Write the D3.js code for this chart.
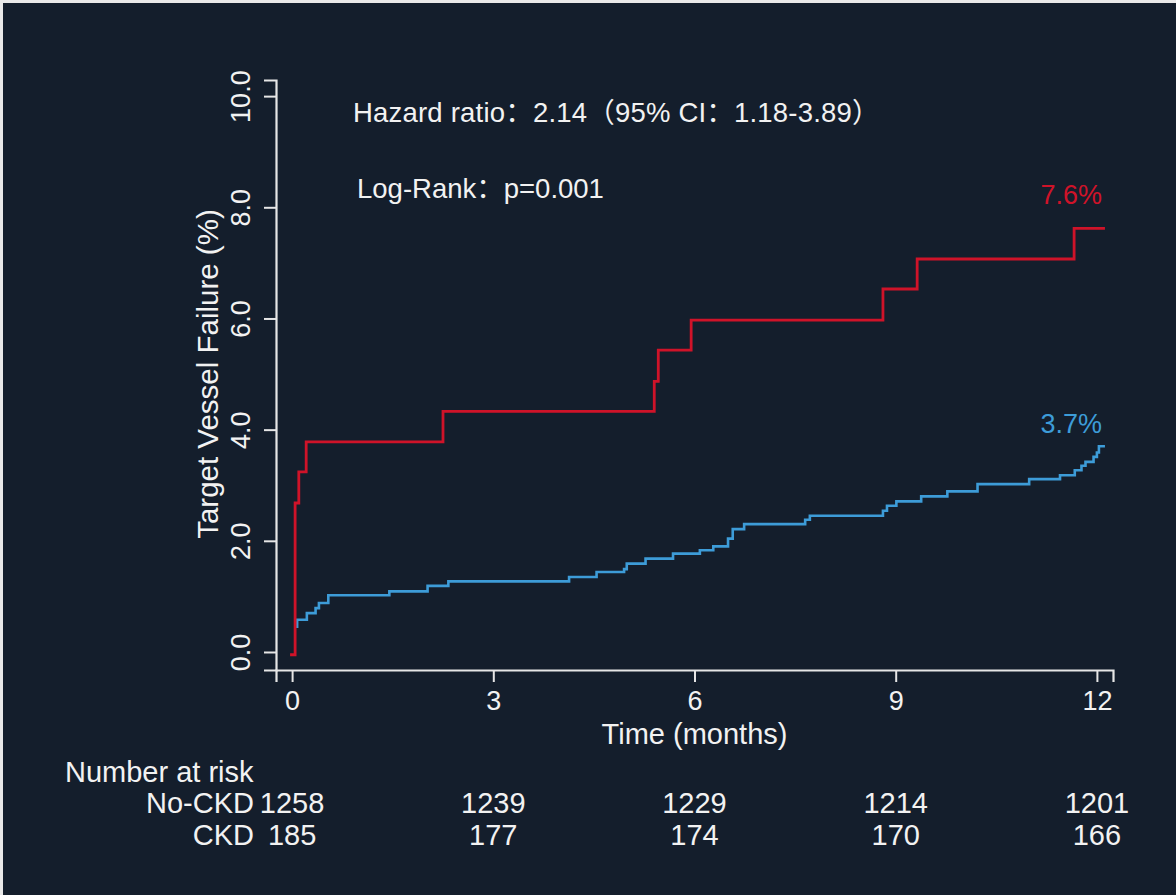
<!DOCTYPE html>
<html>
<head>
<meta charset="utf-8">
<script src="https://cdn.jsdelivr.net/npm/d3@7/dist/d3.min.js"></script>
<style>
  html, body { margin: 0; padding: 0; background: #e9e9e9; }
  svg { display: block; }
  text { font-family: "Liberation Sans", Arial, "Noto Sans CJK SC", sans-serif; fill: #f2f2f2; }
</style>
</head>
<body>
<svg id="chart"></svg>
<script>
const width = 1176;
const height = 895;

// Kaplan-Meier steps (months, cumulative %)
const ckdTimes  = [-0.03, 0.045, 0.10, 0.21, 2.25, 5.40, 5.46, 5.95, 8.81, 9.32, 11.66, 12.12];
const ckdValues = [-0.05, 2.68, 3.24, 3.78, 4.33, 4.87, 5.43, 5.97, 6.53, 7.07, 7.62, 7.62];

const noCkdTimes  = [0.075, 0.075, 0.22, 0.35, 0.40, 0.54, 1.45, 2.02, 2.33, 4.13, 4.54, 4.95, 4.99,
                     5.27, 5.68, 6.08, 6.28, 6.50, 6.57, 6.74, 7.65, 7.72, 8.81, 8.87, 9.01, 9.38,
                     9.77, 10.22, 10.99, 11.45, 11.67, 11.77, 11.83, 11.95, 12.00, 12.03, 12.12];
const noCkdValues = [0.43, 0.58, 0.70, 0.79, 0.88, 1.02, 1.09, 1.19, 1.27, 1.35, 1.44, 1.49, 1.59,
                     1.68, 1.77, 1.83, 1.90, 2.04, 2.21, 2.30, 2.38, 2.45, 2.54, 2.63, 2.71, 2.80,
                     2.89, 3.02, 3.11, 3.18, 3.27, 3.35, 3.42, 3.51, 3.59, 3.70, 3.70];

const xTicks = [0, 3, 6, 9, 12];
const yTicks = [0, 2, 4, 6, 8, 10];

const riskGroups = ["No-CKD", "CKD"];
const riskNoCkd = [1258, 1239, 1229, 1214, 1201];
const riskCkd = [185, 177, 174, 170, 166];

const endLabels = ["7.6%", "3.7%"];
const hazardText = "Hazard ratio：2.14（95% CI：1.18-3.89）";
const logRankText = "Log-Rank：p=0.001";

const red = "#cf1329";
const blue = "#3d9cd8";
const axisColor = "#e6e6e6";

const svg = d3.select("#chart")
    .attr("width", width)
    .attr("height", height);

// dark panel with a thin light edge at top and left
svg.append("rect")
    .attr("x", 3).attr("y", 3)
    .attr("width", width - 3).attr("height", height - 3)
    .attr("fill", "#141e2c");

const x = d3.scaleLinear().domain([-0.24, 12.24]).range([276, 1113]);
const y = d3.scaleLinear().domain([-0.324, 10.29]).range([670, 80]);

// axes
const xAxis = svg.append("g")
    .attr("transform", `translate(0,${y.range()[0]})`)
    .call(d3.axisBottom(x).tickValues(xTicks).tickFormat(d3.format("d")).tickSizeOuter(0).tickSize(12).tickPadding(5));

const yAxis = svg.append("g")
    .attr("transform", `translate(${x.range()[0]},0)`)
    .call(d3.axisLeft(y).tickValues(yTicks).tickFormat(d3.format(".1f")).tickSizeOuter(0).tickSize(12));

[xAxis, yAxis].forEach(g => {
    g.select(".domain").attr("stroke", axisColor).attr("stroke-width", 2.2);
    g.selectAll(".tick line").attr("stroke", axisColor).attr("stroke-width", 2);
    g.selectAll(".tick text").attr("fill", "#f2f2f2").style("font-size", "27px")
        .style("font-family", '"Liberation Sans", Arial, sans-serif');
});

yAxis.selectAll(".tick text")
    .attr("text-anchor", "middle")
    .attr("x", null)
    .attr("transform", "translate(-35,0) rotate(-90)")
    .attr("dy", "0.35em")
    .attr("y", 0);

xAxis.selectAll(".tick text").attr("dy", "0.85em");

// axis titles
svg.append("text")
    .attr("transform", `translate(218,${y(5.0)}) rotate(-90)`)
    .attr("text-anchor", "middle")
    .style("font-size", "29.5px")
    .text("Target Vessel Failure (%)");

svg.append("text")
    .attr("x", x(6)).attr("y", 744)
    .attr("text-anchor", "middle")
    .style("font-size", "29px")
    .text("Time (months)");

// curves
const line = d3.line()
    .x(d => x(d[0]))
    .y(d => y(d[1]))
    .curve(d3.curveStepAfter);

svg.append("path")
    .datum(noCkdTimes.map((t, i) => [t, noCkdValues[i]]))
    .attr("fill", "none")
    .attr("stroke", blue)
    .attr("stroke-width", 2.6)
    .attr("d", line);

svg.append("path")
    .datum(ckdTimes.map((t, i) => [t, ckdValues[i]]))
    .attr("fill", "none")
    .attr("stroke", red)
    .attr("stroke-width", 2.8)
    .attr("d", line);

// end labels
svg.append("text")
    .attr("x", 1102).attr("y", 204)
    .attr("text-anchor", "end")
    .style("font-size", "27px")
    .style("fill", red)
    .text(endLabels[0]);

svg.append("text")
    .attr("x", 1102).attr("y", 433)
    .attr("text-anchor", "end")
    .style("font-size", "27px")
    .style("fill", blue)
    .text(endLabels[1]);

// statistics text
svg.append("text")
    .attr("x", 353).attr("y", 122)
    .style("font-size", "27.5px")
    .style("letter-spacing", "0.2px")
    .text(hazardText);

svg.append("text")
    .attr("x", 357).attr("y", 198)
    .style("font-size", "27.5px")
    .text(logRankText);

// number at risk table
const risk = svg.append("g").style("font-size", "29px");

risk.append("text")
    .attr("x", 65).attr("y", 782)
    .text("Number at risk");

const rows = [riskNoCkd, riskCkd];
const rowY = [813, 845];

riskGroups.forEach((name, r) => {
    risk.append("text")
        .attr("x", 254).attr("y", rowY[r])
        .attr("text-anchor", "end")
        .text(name);
    risk.selectAll(null)
        .data(rows[r])
        .join("text")
        .attr("x", (d, i) => x(xTicks[i]))
        .attr("y", rowY[r])
        .attr("text-anchor", "middle")
        .text(d => d);
});
</script>
</body>
</html>
